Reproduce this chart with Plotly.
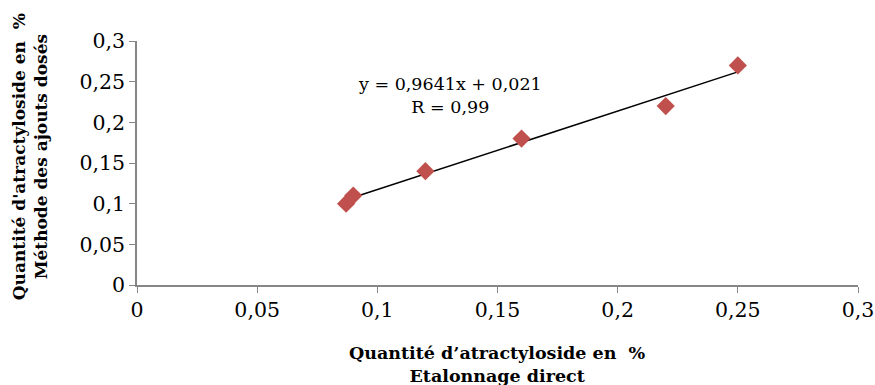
import plotly.graph_objects as go

x_direct = [0.087, 0.09, 0.12, 0.16, 0.22, 0.25]
y_ajouts = [0.10, 0.11, 0.14, 0.18, 0.22, 0.27]
slope = 0.9641
intercept = 0.021
x_ticks = [0, 0.05, 0.1, 0.15, 0.2, 0.25, 0.3]
y_ticks = [0, 0.05, 0.1, 0.15, 0.2, 0.25, 0.3]

FONT = "DejaVu Serif"

x_fit = [min(x_direct), max(x_direct)]
y_fit = [slope * v + intercept for v in x_fit]

fig = go.Figure()
fig.add_trace(go.Scatter(x=x_fit, y=y_fit, mode="lines",
                         line=dict(color="black", width=1.5), showlegend=False))
fig.add_trace(go.Scatter(x=x_direct, y=y_ajouts, mode="markers",
                         marker=dict(symbol="diamond", size=14, color="#C0504D"),
                         showlegend=False))

axis_common = dict(showline=True, linecolor="#868686", linewidth=1.5,
                   ticks="outside", ticklen=6, tickcolor="#868686", tickwidth=1,
                   showgrid=False, zeroline=False, ticklabeloverflow="allow",
                   automargin=False,
                   tickfont=dict(family=FONT, size=20.5, color="black"))

fig.update_xaxes(range=[0, 0.3], tickvals=x_ticks,
                 ticktext=[str(v).replace(".", ",") for v in x_ticks], **axis_common)
fig.update_yaxes(range=[0, 0.3], tickvals=y_ticks,
                 ticktext=[str(v).replace(".", ",") for v in y_ticks], **axis_common)

fig.add_annotation(text="y = 0,9641x + 0,021<br>R = 0,99", x=0.434, y=0.873,
                   xref="paper", yref="paper", xanchor="center", showarrow=False,
                   font=dict(family=FONT, size=17.5, color="black"), align="center")
fig.add_annotation(text="<b>Quantité d’atractyloside en  %<br>Etalonnage direct</b>",
                   x=0.5, y=-0.324, xref="paper", yref="paper", xanchor="center",
                   yanchor="middle", showarrow=False,
                   font=dict(family=FONT, size=17.5, color="black"))
fig.add_annotation(text="<b>Quantité d'atractyloside en  %<br>Méthode des ajouts dosés</b>",
                   x=-0.148, y=0.525, xref="paper", yref="paper", textangle=-90,
                   xanchor="center", yanchor="middle", showarrow=False,
                   font=dict(family=FONT, size=17, color="black"))

fig.update_layout(width=875, height=385, plot_bgcolor="white", paper_bgcolor="white",
                  margin=dict(l=137, r=17, t=41, b=100, autoexpand=False))
fig.write_html("out.html", config={"displayModeBar": False},
               post_script="document.body.style.margin='0';"
                           "document.documentElement.style.overflow='hidden';"
                           "document.body.style.overflow='hidden';")
